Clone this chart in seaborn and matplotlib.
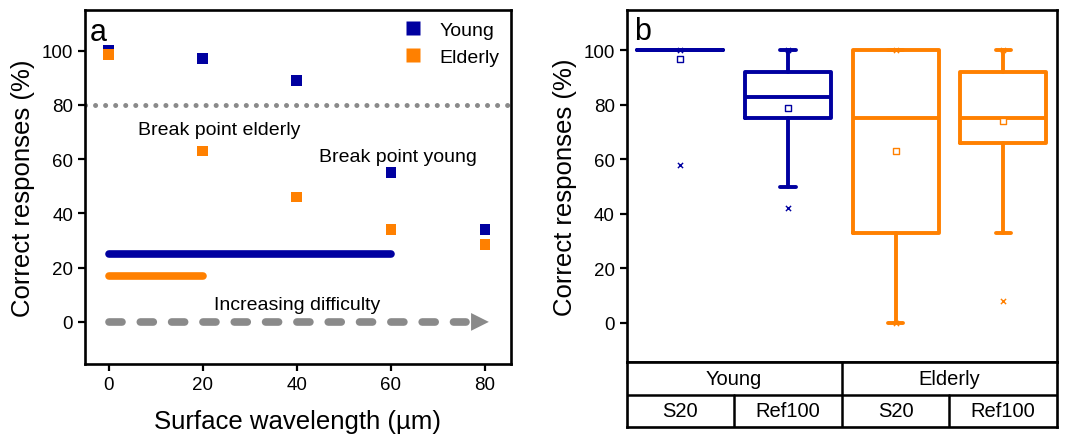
import matplotlib
matplotlib.use("Agg")
import matplotlib.pyplot as plt
import numpy as np
import pandas as pd
import seaborn as sns

# panel a data
wavelength = [0, 20, 40, 60, 80]
young_pct = [100, 97, 89, 55, 34]
elderly_pct = [98.5, 63, 46, 34, 28.5]
breakpoint_young = 60
breakpoint_elderly = 20

# panel b box statistics
groups = ["Young", "Young", "Elderly", "Elderly"]
surfaces = ["S20", "Ref100", "S20", "Ref100"]
q1 = [100, 75, 33, 66]
median = [100, 83, 75, 75]
q3 = [100, 92, 100, 92]
whisk_lo = [100, 50, 0, 33]
whisk_hi = [100, 100, 100, 100]
means = [97, 79, 63, 74]
extreme_lo = [58, 42, 0, 8]
extreme_hi = [100, 100, 100, 100]

BLUE = "#0000a0"
ORANGE = "#ff8000"
GRAY = "#8a8a8a"

sns.set_style("ticks")
plt.rcParams["font.family"] = ["Liberation Sans", "DejaVu Sans"]
plt.rcParams["text.color"] = "black"
plt.rcParams["axes.labelcolor"] = "black"
plt.rcParams["xtick.color"] = "black"
plt.rcParams["ytick.color"] = "black"

fig = plt.figure(figsize=(10.73, 4.35), dpi=100)
ax = fig.add_axes([0.0792, 0.161, 0.397, 0.814])
bx = fig.add_axes([0.584, 0.1655, 0.401, 0.81])
tab = fig.add_axes([0.584, 0.016, 0.401, 0.1495])

# ---------- panel a ----------
ax.axhline(80, color=GRAY, lw=3.6, ls=(0, (0.01, 2.0)), dash_capstyle="round", zorder=1)
ax.plot([0, breakpoint_young], [25, 25], color=BLUE, lw=5.5, solid_capstyle="round")
ax.plot([0, breakpoint_elderly], [17, 17], color=ORANGE, lw=5.5, solid_capstyle="round")
ax.plot([0, 76], [0, 0], color=GRAY, lw=5.5, ls=(0, (1.7, 2.4)), dash_capstyle="round")
ax.annotate("", xy=(80.8, 0), xytext=(74.5, 0),
            arrowprops=dict(arrowstyle="-|>", color=GRAY, lw=0, mutation_scale=32,
                            shrinkA=0, shrinkB=0))

df_a = pd.DataFrame({
    "x": wavelength * 2,
    "y": young_pct + elderly_pct,
    "grp": ["Young"] * len(wavelength) + ["Elderly"] * len(wavelength),
})
sns.scatterplot(data=df_a, x="x", y="y", hue="grp", palette={"Young": BLUE, "Elderly": ORANGE},
                marker="s", s=60, edgecolor="none", ax=ax, zorder=3)
leg = ax.legend(loc="upper right", frameon=False, fontsize=14, handletextpad=0.35,
                borderaxespad=0.2, labelspacing=0.45, markerscale=1.3)

ax.text(23.5, 71, "Break point elderly", fontsize=14, ha="center", va="center")
ax.text(61.5, 61, "Break point young", fontsize=14, ha="center", va="center")
ax.text(40, 6.5, "Increasing difficulty", fontsize=14, ha="center", va="center")
ax.text(-4, 112.5, "a", fontsize=22, ha="left", va="top")

ax.set_xlim(-5, 85.5)
ax.set_ylim(-15.5, 115)
ax.set_xticks([0, 20, 40, 60, 80])
ax.set_yticks([0, 20, 40, 60, 80, 100])
ax.set_xlabel("Surface wavelength (µm)", fontsize=18.5, labelpad=12)
ax.set_ylabel("Correct responses (%)", fontsize=18.5, labelpad=5)

# ---------- panel b ----------
stats = []
for i in range(len(groups)):
    stats.append(dict(med=median[i], q1=q1[i], q3=q3[i], whislo=whisk_lo[i],
                      whishi=whisk_hi[i], fliers=[]))
positions = np.arange(len(groups))
colors = [BLUE if g == "Young" else ORANGE for g in groups]
for i, st in enumerate(stats):
    c = colors[i]
    bx.bxp([st], positions=[positions[i]], widths=0.8, showfliers=False,
           capwidths=0.14,
           boxprops=dict(color=c, lw=2.8),
           whiskerprops=dict(color=c, lw=2.8),
           capprops=dict(color=c, lw=2.8, solid_capstyle="round"),
           medianprops=dict(color=c, lw=2.8))

df_b = pd.DataFrame({"pos": positions, "mean": means, "lo": extreme_lo,
                     "hi": extreme_hi, "col": colors})
for c in [BLUE, ORANGE]:
    sub = df_b[df_b["col"] == c]
    sns.scatterplot(x=sub["pos"], y=sub["mean"], marker="s", s=14, facecolor="white",
                    edgecolor=c, linewidth=1.0, ax=bx, zorder=4)
    sns.scatterplot(x=np.r_[sub["pos"], sub["pos"]], y=np.r_[sub["lo"], sub["hi"]],
                    marker="x", s=14, color=c, linewidth=1.0, ax=bx, zorder=4)

bx.text(-0.43, 112.5, "b", fontsize=22, ha="left", va="top")
bx.set_xlim(-0.5, 3.5)
bx.set_ylim(-14.5, 115)
bx.set_xticks([])
bx.set_yticks([0, 20, 40, 60, 80, 100])
bx.set_xlabel("")
bx.set_ylabel("Correct responses (%)", fontsize=18.5, labelpad=5)

# category table under panel b
tab.set_xlim(-0.5, 3.5)
tab.set_ylim(0, 2)
tab.set_xticks([])
tab.set_yticks([])
tab.axhline(1, color="black", lw=1.8)
tab.plot([1.5, 1.5], [0, 2], color="black", lw=1.8)
tab.plot([0.5, 0.5], [0, 1], color="black", lw=1.8)
tab.plot([2.5, 2.5], [0, 1], color="black", lw=1.8)
for gi, g in enumerate(["Young", "Elderly"]):
    tab.text(0.5 + 2 * gi, 1.5, g, fontsize=14.5, ha="center", va="center")
for i, s in enumerate(surfaces):
    tab.text(positions[i], 0.5, s, fontsize=14.5, ha="center", va="center")

for a in [ax, bx, tab]:
    for sp in a.spines.values():
        sp.set_visible(True)
        sp.set_linewidth(1.9)
        sp.set_color("black")
for a in [ax, bx]:
    a.tick_params(axis="both", labelsize=13.5, width=1.6, length=5, direction="out",
                  color="black", labelcolor="black")

fig.savefig("out.png", dpi=100)
